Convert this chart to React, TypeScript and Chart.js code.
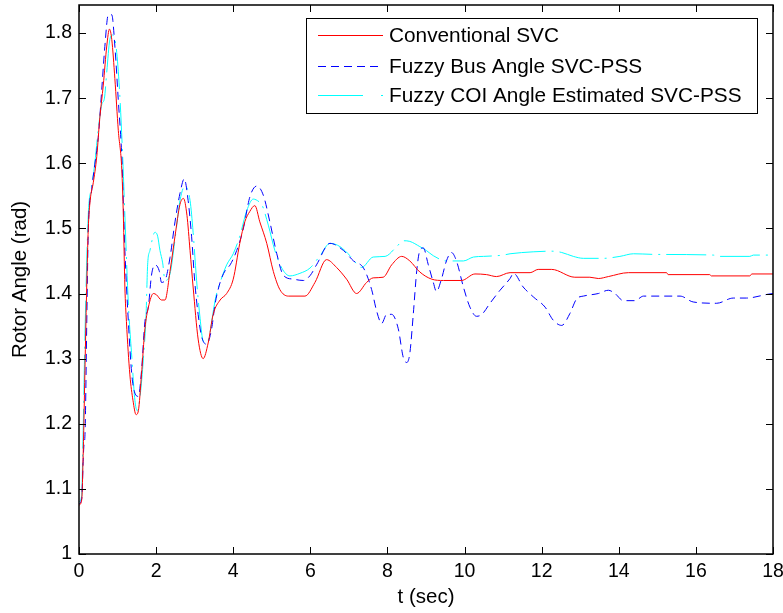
import React, { useEffect, useRef } from "react";
import { Chart, registerables } from "chart.js";

Chart.register(...registerables);

const FONT = 'Arial, "Liberation Sans", sans-serif';

// ---- Data (t in seconds, rotor angle in rad) ----
const seriesLabels = [
  "Conventional SVC",
  "Fuzzy Bus Angle SVC-PSS",
  "Fuzzy COI Angle Estimated SVC-PSS",
];

const tConv = [
  0, 0.07, 0.11, 0.16, 0.2, 0.24, 0.29, 0.37, 0.46, 0.54, 0.63, 0.72, 0.79, 0.85, 0.93, 1.02, 1.11, 1.15, 1.19, 1.23,
  1.32, 1.4, 1.48, 1.54, 1.62, 1.71, 1.8, 1.93, 2.01, 2.14, 2.23, 2.36, 2.49, 2.62, 2.71, 2.8, 2.88, 2.96, 3.09, 3.22,
  3.35, 3.48, 3.66, 3.83, 4.0, 4.17, 4.3, 4.43, 4.56, 4.69, 4.87, 5.04, 5.21, 5.43, 5.86, 6.12, 6.42, 6.68, 6.94, 7.2,
  7.46, 7.63, 7.89, 8.11, 8.37, 8.58, 8.84, 9.15, 9.45, 9.92, 10.27, 10.57, 10.83, 11.18, 11.7, 11.91, 12.26, 12.86, 13.25, 13.47,
  13.73, 14.25, 15.24, 15.28, 16.36, 16.4, 17.4, 17.45, 18,
];
const yConv = [
  1.075, 1.083, 1.157, 1.3, 1.41, 1.499, 1.543, 1.57, 1.61, 1.67, 1.72, 1.78, 1.806, 1.79, 1.73, 1.65, 1.59, 1.52, 1.41, 1.357,
  1.275, 1.236, 1.214, 1.22, 1.275, 1.346, 1.379, 1.4, 1.398, 1.39, 1.39, 1.434, 1.488, 1.537, 1.546, 1.52, 1.466, 1.41, 1.33, 1.3,
  1.324, 1.368, 1.39, 1.4, 1.422, 1.477, 1.51, 1.526, 1.535, 1.51, 1.477, 1.434, 1.406, 1.396, 1.396, 1.417, 1.452, 1.44, 1.422, 1.4,
  1.417, 1.424, 1.425, 1.444, 1.457, 1.45, 1.433, 1.422, 1.42, 1.42, 1.43, 1.429, 1.426, 1.432, 1.432, 1.437, 1.437, 1.425, 1.425, 1.423,
  1.426, 1.432, 1.432, 1.429, 1.429, 1.427, 1.427, 1.43, 1.43,
];

const tBus = [
  0, 0.07, 0.12, 0.16, 0.2, 0.24, 0.33, 0.41, 0.5, 0.59, 0.67, 0.76, 0.85, 0.93, 1.02, 1.11, 1.19, 1.28, 1.37, 1.45,
  1.54, 1.62, 1.71, 1.8, 1.88, 1.97, 2.08, 2.14, 2.23, 2.36, 2.49, 2.62, 2.73, 2.83, 2.92, 3.0, 3.09, 3.18, 3.31, 3.44,
  3.53, 3.66, 3.79, 3.92, 4.09, 4.26, 4.43, 4.61, 4.78, 4.95, 5.13, 5.3, 5.56, 5.82, 6.0, 6.16, 6.51, 6.86, 7.12, 7.38,
  7.59, 7.72, 7.85, 7.98, 8.11, 8.28, 8.41, 8.5, 8.58, 8.67, 8.76, 8.84, 8.93, 9.06, 9.19, 9.27, 9.4, 9.53, 9.66, 9.79,
  9.97, 10.14, 10.31, 10.45, 10.66, 10.92, 11.18, 11.27, 11.52, 11.78, 12.09, 12.3, 12.52, 12.73, 12.91, 13.08, 13.47, 13.73, 13.9, 14.12,
  14.42, 14.64, 15.59, 15.93, 16.54, 16.97, 17.31, 17.88, 18,
];
const yBus = [
  1.077, 1.085, 1.16, 1.192, 1.35, 1.494, 1.56, 1.598, 1.64, 1.713, 1.779, 1.828, 1.828, 1.78, 1.696, 1.609, 1.466, 1.357, 1.275, 1.247,
  1.242, 1.28, 1.357, 1.38, 1.428, 1.444, 1.435, 1.417, 1.42, 1.455, 1.51, 1.554, 1.576, 1.543, 1.488, 1.42, 1.368, 1.334, 1.322, 1.346,
  1.384, 1.417, 1.435, 1.444, 1.466, 1.499, 1.548, 1.565, 1.551, 1.51, 1.461, 1.428, 1.422, 1.42, 1.428, 1.444, 1.477, 1.466, 1.45, 1.439,
  1.406, 1.373, 1.354, 1.368, 1.368, 1.346, 1.302, 1.294, 1.308, 1.368, 1.435, 1.466, 1.47, 1.444, 1.417, 1.403, 1.422, 1.45, 1.463, 1.45,
  1.41, 1.379, 1.365, 1.368, 1.385, 1.405, 1.423, 1.431, 1.41, 1.395, 1.379, 1.359, 1.351, 1.369, 1.392, 1.396, 1.4, 1.405, 1.4, 1.389,
  1.389, 1.396, 1.396, 1.387, 1.385, 1.393, 1.393, 1.399, 1.4,
];

const tCoi = [
  0, 0.07, 0.1, 0.16, 0.24, 0.33, 0.41, 0.5, 0.59, 0.66, 0.72, 0.8, 0.87, 0.96, 1.05, 1.13, 1.19, 1.28, 1.37, 1.45,
  1.51, 1.58, 1.67, 1.74, 1.78, 1.84, 1.97, 2.04, 2.1, 2.17, 2.23, 2.36, 2.49, 2.62, 2.75, 2.88, 2.96, 3.05, 3.14, 3.22,
  3.31, 3.4, 3.47, 3.55, 3.66, 3.83, 4.0, 4.17, 4.35, 4.52, 4.69, 4.74, 4.91, 5.08, 5.26, 5.47, 5.73, 5.99, 6.25, 6.51,
  6.77, 7.03, 7.33, 7.63, 7.94, 8.24, 8.41, 8.58, 8.84, 9.01, 9.19, 9.53, 9.97, 10.23, 10.49, 11.0, 11.18, 11.78, 12.26, 12.52,
  12.82, 13.08, 13.6, 14.03, 14.38, 14.98, 16.45, 16.6, 17.4, 17.49, 18,
];
const yCoi = [
  1.08, 1.09, 1.166, 1.35, 1.52, 1.564, 1.6, 1.652, 1.69, 1.7, 1.74, 1.79, 1.797, 1.78, 1.713, 1.614, 1.52, 1.384, 1.302, 1.236,
  1.22, 1.24, 1.3, 1.368, 1.444, 1.466, 1.494, 1.488, 1.466, 1.447, 1.42, 1.43, 1.483, 1.543, 1.565, 1.543, 1.494, 1.42, 1.362, 1.327,
  1.324, 1.34, 1.368, 1.395, 1.417, 1.444, 1.461, 1.488, 1.527, 1.545, 1.54, 1.537, 1.505, 1.466, 1.439, 1.427, 1.431, 1.439, 1.458, 1.477,
  1.472, 1.458, 1.44, 1.456, 1.457, 1.472, 1.481, 1.48, 1.472, 1.466, 1.458, 1.45, 1.45, 1.456, 1.457, 1.459, 1.461, 1.464, 1.465, 1.463,
  1.457, 1.454, 1.454, 1.457, 1.461, 1.46, 1.459, 1.457, 1.457, 1.459, 1.459,
];

const xMin = 0;
const xMax = 18;
const xStep = 2;
const yMin = 1;
const yMax = 1.843;
const yStep = 0.1;

const toPoints = (t: number[], v: number[]) => t.map((x, i) => ({ x, y: v[i] }));

const framePlugin = {
  id: "matlabFrame",
  afterDatasetsDraw(chart: any) {
    const { ctx, chartArea } = chart;
    const { left, right, top, bottom } = chartArea;
    const xs = chart.scales.x;
    const ys = chart.scales.y;
    const tl = 7;
    ctx.save();
    ctx.setLineDash([]);
    ctx.strokeStyle = "#000";
    ctx.lineWidth = 1;
    ctx.beginPath();
    xs.ticks.forEach((t: any) => {
      const px = Math.round(xs.getPixelForValue(t.value)) + 0.5;
      ctx.moveTo(px, bottom);
      ctx.lineTo(px, bottom - tl);
      ctx.moveTo(px, top);
      ctx.lineTo(px, top + tl);
    });
    ys.ticks.forEach((t: any) => {
      const py = Math.round(ys.getPixelForValue(t.value)) + 0.5;
      ctx.moveTo(left, py);
      ctx.lineTo(left + tl, py);
      ctx.moveTo(right, py);
      ctx.lineTo(right - tl, py);
    });
    ctx.stroke();
    ctx.lineWidth = 1.5;
    ctx.strokeRect(left, top, right - left, bottom - top);
    ctx.restore();
  },
};

const legendPlugin = {
  id: "boxLegend",
  afterDraw(chart: any) {
    const { ctx } = chart;
    const bx = 306;
    const by = 18.5;
    const bw = 451;
    const bh = 95;
    const rows = [35.5, 66.5, 95.5];
    ctx.save();
    ctx.fillStyle = "#fff";
    ctx.fillRect(bx, by, bw, bh);
    ctx.strokeStyle = "#000";
    ctx.lineWidth = 1;
    ctx.setLineDash([]);
    ctx.strokeRect(bx + 0.5, by, bw, bh);
    chart.data.datasets.forEach((ds: any, i: number) => {
      const y = rows[i];
      ctx.strokeStyle = ds.borderColor;
      ctx.lineWidth = 1;
      ctx.setLineDash(ds.legendDash || []);
      ctx.beginPath();
      ctx.moveTo(318, y);
      ctx.lineTo(383, y);
      ctx.stroke();
      ctx.setLineDash([]);
      ctx.fillStyle = "#000";
      ctx.font = `20.8px ${FONT}`;
      ctx.textBaseline = "middle";
      ctx.textAlign = "left";
      ctx.fillText(ds.label, 389, y + 0.5);
    });
    ctx.restore();
  },
};

export default function App() {
  const ref = useRef<HTMLCanvasElement | null>(null);

  useEffect(() => {
    if (!ref.current) return;
    const common = {
      borderWidth: 1,
      pointRadius: 0,
      fill: false,
      cubicInterpolationMode: "monotone",
    };
    const chart = new Chart(ref.current, {
      type: "line",
      data: {
        datasets: [
          {
            ...common,
            label: seriesLabels[0],
            data: toPoints(tConv, yConv),
            borderColor: "#ff0000",
            legendDash: [],
          } as any,
          {
            ...common,
            label: seriesLabels[1],
            data: toPoints(tBus, yBus),
            borderColor: "#0000ff",
            borderDash: [8, 5],
            legendDash: [8, 5],
          } as any,
          {
            ...common,
            label: seriesLabels[2],
            data: toPoints(tCoi, yCoi),
            borderColor: "#00ffff",
            borderDash: [40, 6, 2, 6],
            legendDash: [45, 18, 2, 20],
          } as any,
        ],
      },
      options: {
        animation: false,
        responsive: false,
        devicePixelRatio: 1,
        layout: { padding: { top: 5, right: 10, left: 0, bottom: 0 } },
        plugins: {
          legend: { display: false },
          tooltip: { enabled: false },
        },
        scales: {
          x: {
            type: "linear",
            min: xMin,
            max: xMax,
            ticks: {
              stepSize: xStep,
              color: "#000",
              font: { family: FONT, size: 19.5 },
              padding: 6,
              maxRotation: 0,
              callback: (v: any) => String(v),
            },
            grid: { display: false, drawTicks: false },
            border: { display: false },
            title: {
              display: true,
              text: "t (sec)",
              color: "#000",
              font: { family: FONT, size: 20.5 },
              padding: { top: 0, bottom: 3 },
            },
            afterFit: (s: any) => {
              s.height = 59;
              s.paddingLeft = 0;
              s.paddingRight = 0;
            },
          },
          y: {
            type: "linear",
            min: yMin,
            max: yMax,
            afterBuildTicks: (s: any) => {
              s.ticks = s.ticks.filter(
                (t: any) => Math.abs(t.value / yStep - Math.round(t.value / yStep)) < 1e-6
              );
            },
            ticks: {
              stepSize: yStep,
              color: "#000",
              font: { family: FONT, size: 19.5 },
              padding: 7,
              callback: (v: any) => String(+Number(v).toFixed(1)),
            },
            grid: { display: false, drawTicks: false },
            border: { display: false },
            title: {
              display: true,
              text: "Rotor Angle (rad)",
              color: "#000",
              font: { family: FONT, size: 20.5 },
              padding: { top: 8, bottom: 0 },
            },
            afterFit: (s: any) => {
              s.width = 79;
              s.paddingTop = 0;
              s.paddingBottom = 0;
            },
          },
        },
      },
      plugins: [framePlugin, legendPlugin],
    } as any);
    return () => chart.destroy();
  }, []);

  return (
    <div style={{ position: "absolute", left: 0, top: 0, width: 783, height: 613, background: "#fff" }}>
      <canvas ref={ref} width={783} height={613} style={{ display: "block" }} />
    </div>
  );
}
